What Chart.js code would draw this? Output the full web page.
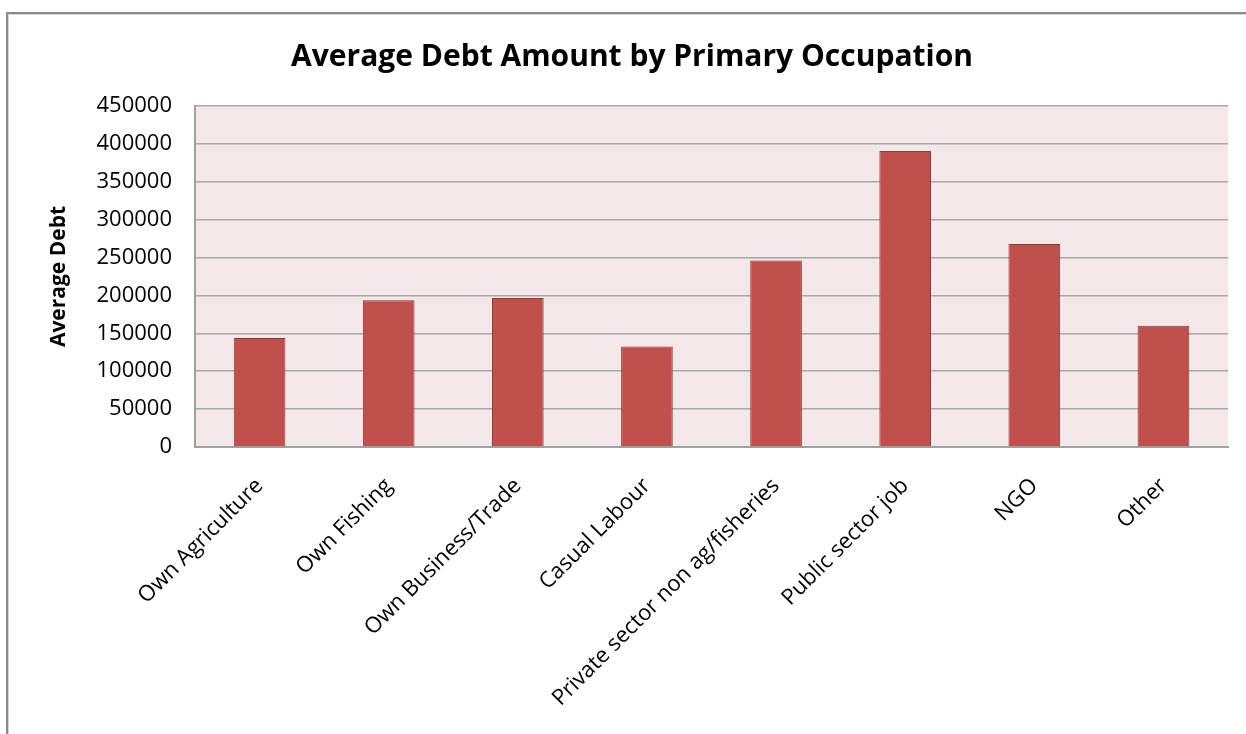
<!DOCTYPE html>
<html>
<head>
<meta charset="utf-8">
<script src="https://cdn.jsdelivr.net/npm/chart.js@4.4.1/dist/chart.umd.min.js"></script>
<style>
  html, body { margin: 0; padding: 0; background: #ffffff; }
  #wrap { position: relative; width: 1246px; height: 734px; }
  #frame { position: absolute; left: 6px; top: 12px; right: 0; bottom: 0;
           border-left: 2px solid #8a8a8a; border-top: 2px solid #8a8a8a;
           box-shadow: inset 1px 1px 0 #d8d8d8; pointer-events: none; }
  canvas { position: absolute; left: 0; top: 0; }
</style>
</head>
<body>
<div id="wrap">
  <canvas id="c" width="1246" height="734"></canvas>
  <div id="frame"></div>
</div>
<script>
const categories = [
  "Own Agriculture",
  "Own Fishing",
  "Own Business/Trade",
  "Casual Labour",
  "Private sector non ag/fisheries",
  "Public sector job",
  "NGO",
  "Other"
];
const averageDebt = [144000, 193500, 196500, 132500, 246000, 390500, 268000, 160000];
const yTickMax = 450000;
const yTickStep = 50000;
const chartTitle = "Average Debt Amount by Primary Occupation";
const yAxisTitle = "Average Debt";

const plotBg = {
  id: 'plotBg',
  beforeDraw(chart) {
    const {ctx, chartArea: a} = chart;
    ctx.save();
    ctx.fillStyle = '#f3e7e7';
    ctx.fillRect(a.left, a.top, a.right - a.left, a.bottom - a.top);
    ctx.restore();
  }
};

new Chart(document.getElementById('c'), {
  type: 'bar',
  data: {
    labels: categories,
    datasets: [{
      label: yAxisTitle,
      data: averageDebt,
      backgroundColor: '#c0504d',
      borderColor: '#8e3a38',
      borderWidth: 1,
      barPercentage: 0.8,
      categoryPercentage: 0.5
    }]
  },
  options: {
    responsive: false,
    animation: false,
    layout: { padding: { left: 36, right: 18, top: 0, bottom: 0 } },
    plugins: {
      legend: { display: false },
      tooltip: { enabled: false },
      title: {
        display: true,
        text: chartTitle,
        color: '#000000',
        font: { family: 'Open Sans', size: 30, weight: 'bold', lineHeight: 1.2 },
        padding: { top: 39, bottom: 31 }
      }
    },
    scales: {
      x: {
        grid: { display: false, drawTicks: false },
        border: { display: true, color: '#a0a0a0', width: 2 },
        ticks: {
          color: '#000000',
          font: { family: 'Open Sans', size: 22 },
          maxRotation: 45,
          minRotation: 45,
          autoSkip: false,
          padding: 26
        },
        afterFit(scale) { scale.height = 287; }
      },
      y: {
        min: 0,
        max: yTickMax,
        ticks: {
          stepSize: yTickStep,
          color: '#000000',
          font: { family: 'Open Sans', size: 22 },
          padding: 23,
          callback: v => String(v)
        },
        grid: { color: '#a8a8a8', lineWidth: 1.5, drawTicks: false },
        border: { display: true, color: '#a0a0a0', width: 2 },
        title: {
          display: true,
          text: yAxisTitle,
          color: '#000000',
          font: { family: 'Open Sans', size: 21, weight: 'bold', lineHeight: 1.2 },
          padding: { top: 10, bottom: 0 }
        },
        afterFit(scale) { scale.width = 159; }
      }
    }
  },
  plugins: [plotBg]
});
</script>
</body>
</html>
